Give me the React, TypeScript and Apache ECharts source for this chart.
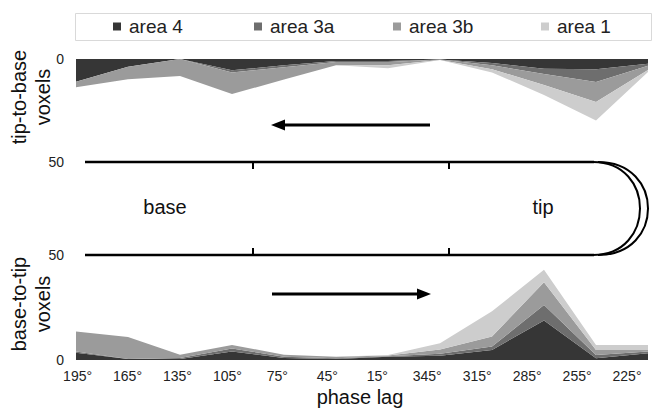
import React, { useEffect, useRef } from "react";
import * as echarts from "echarts";

const categories = ["195°", "165°", "135°", "105°", "75°", "45°", "15°", "345°", "315°", "285°", "255°", "225°"];
const seriesNames = ["area 4", "area 3a", "area 3b", "area 1"];
const seriesColors = ["#363636", "#6e6e6e", "#9b9b9b", "#cdcdcd"];

// tip-to-base (upper panel, hanging down from 0)
const topArea4 = [11, 3.8, 0, 5.5, 3, 1, 1, 0.3, 2, 4.7, 5, 2.3];
const topArea3a = [0, 0, 0, 1, 1, 0.5, 0.5, 0, 1, 2.6, 6.2, 1];
const topArea3b = [2.7, 6, 8.3, 10.5, 6, 1.5, 1.5, 0.2, 2, 5.3, 9.7, 2];
const topArea1 = [0, 0, 0, 0, 0, 0, 1.5, 0, 1.5, 4.9, 8.9, 1];

// base-to-tip (lower panel)
const botArea4 = [3.5, 0.5, 0.5, 4, 1, 0.5, 1.5, 2, 4.8, 18.8, 0.8, 3.2];
const botArea3a = [0.5, 0, 0.5, 1.5, 0.5, 0.3, 0.3, 1, 1.6, 7.4, 1.6, 0.8];
const botArea3b = [9.6, 10.4, 1.5, 1.7, 1, 0.8, 0.3, 2, 4.8, 10.8, 2.4, 0.8];
const botArea1 = [0, 0, 0, 0, 0, 0, 0.3, 3, 12, 6, 2.4, 2.4];

const yTicks = [0, 50];

const FONT = "'Liberation Sans', Arial, sans-serif";

export default function App() {
  const ref = useRef<HTMLDivElement>(null);
  useEffect(() => {
    if (!ref.current) return;
    const chart = echarts.init(ref.current, undefined, { renderer: "svg" });
    const topData = [topArea4, topArea3a, topArea3b, topArea1];
    const botData = [botArea4, botArea3a, botArea3b, botArea1];
    const mkSeries = (data: number[][], idx: number, stack: string) =>
      data.map((d, i) => ({
        name: seriesNames[i],
        type: "line",
        stack,
        xAxisIndex: idx,
        yAxisIndex: idx,
        data: d,
        symbol: "none",
        lineStyle: { width: 0 },
        areaStyle: { color: seriesColors[i], opacity: 1 },
        itemStyle: { color: seriesColors[i] },
      }));
    const legendLefts = [113, 254, 393, 541];
    const yAxisCommon = {
      type: "value",
      min: yTicks[0],
      max: yTicks[1],
      interval: yTicks[1] - yTicks[0],
      splitLine: { show: false },
      axisLine: { show: false },
      axisTick: { show: false },
      axisLabel: { fontSize: 14, color: "#222", margin: 12, fontFamily: FONT },
    };
    const lw = 2.5;
    const txt = (x: number, y: number, text: string, size: number, rot = 0) => ({
      type: "text",
      x,
      y,
      rotation: rot,
      style: {
        text,
        fontSize: size,
        lineHeight: size + 4,
        fontFamily: FONT,
        fill: "#111",
        align: "center",
        verticalAlign: "middle",
      },
    });
    chart.setOption({
      animation: false,
      backgroundColor: "#fff",
      textStyle: { fontFamily: FONT },
      legend: seriesNames.map((n, i) => ({
        data: [n],
        left: legendLefts[i],
        top: 17,
        icon: "rect",
        itemWidth: 8,
        itemHeight: 8,
        padding: 0,
        textStyle: { fontSize: 19, color: "#222", fontFamily: FONT, padding: [0, 0, 0, 3] },
      })),
      grid: [
        { left: 76, right: 4, top: 59, height: 103 },
        { left: 76, right: 4, top: 255, height: 105 },
        { left: 52.6, width: 608, top: 360, height: 1 },
      ],
      xAxis: [
        { type: "category", gridIndex: 0, data: categories, boundaryGap: false, show: false },
        { type: "category", gridIndex: 1, data: categories, boundaryGap: false, show: false },
        {
          type: "category",
          gridIndex: 2,
          data: categories,
          boundaryGap: true,
          axisLine: { show: false },
          axisTick: { show: false },
          axisLabel: { fontSize: 14, color: "#222", margin: 8, fontFamily: FONT, interval: 0 },
        },
      ],
      yAxis: [
        { ...yAxisCommon, gridIndex: 0, inverse: true },
        { ...yAxisCommon, gridIndex: 1 },
        { type: "value", gridIndex: 2, show: false },
      ],
      series: [...mkSeries(topData, 0, "top"), ...mkSeries(botData, 1, "bottom")],
      graphic: [
        {
          type: "rect",
          shape: { x: 75.5, y: 13.5, width: 576, height: 27 },
          style: { fill: "none", stroke: "#d9d9d9", lineWidth: 1 },
          z: -1,
        },
        txt(31, 97, "tip-to-base\nvoxels", 20, Math.PI / 2),
        txt(31, 304, "base-to-tip\nvoxels", 20, Math.PI / 2),
        txt(360, 397, "phase lag", 20),
        txt(165, 207, "base", 20),
        txt(543, 207, "tip", 20),
        // finger outline
        { type: "line", shape: { x1: 85, y1: 162, x2: 594, y2: 162 }, style: { stroke: "#000", lineWidth: lw } },
        { type: "line", shape: { x1: 85, y1: 255, x2: 594, y2: 255 }, style: { stroke: "#000", lineWidth: lw } },
        { type: "line", shape: { x1: 253, y1: 162, x2: 253, y2: 169 }, style: { stroke: "#000", lineWidth: 2 } },
        { type: "line", shape: { x1: 449, y1: 162, x2: 449, y2: 169 }, style: { stroke: "#000", lineWidth: 2 } },
        { type: "line", shape: { x1: 253, y1: 255, x2: 253, y2: 248 }, style: { stroke: "#000", lineWidth: 2 } },
        { type: "line", shape: { x1: 449, y1: 255, x2: 449, y2: 248 }, style: { stroke: "#000", lineWidth: 2 } },
        {
          type: "bezierCurve",
          shape: { x1: 593, y1: 162, cpx1: 593 + (4 / 3) * 47, cpy1: 162, cpx2: 593 + (4 / 3) * 47, cpy2: 255, x2: 593, y2: 255 },
          style: { stroke: "#000", lineWidth: 2, fill: "none" },
        },
        {
          type: "bezierCurve",
          shape: { x1: 598, y1: 162, cpx1: 598 + (4 / 3) * 50, cpy1: 162, cpx2: 598 + (4 / 3) * 50, cpy2: 255, x2: 598, y2: 255 },
          style: { stroke: "#000", lineWidth: 2, fill: "none" },
        },
        // arrows
        { type: "line", shape: { x1: 282, y1: 125, x2: 430, y2: 125 }, style: { stroke: "#000", lineWidth: 3 } },
        { type: "polygon", shape: { points: [[271, 125], [285, 119.5], [285, 130.5]] }, style: { fill: "#000" } },
        { type: "line", shape: { x1: 272, y1: 294, x2: 420, y2: 294 }, style: { stroke: "#000", lineWidth: 3 } },
        { type: "polygon", shape: { points: [[431, 294], [417, 288.5], [417, 299.5]] }, style: { fill: "#000" } },
      ],
    });
    return () => chart.dispose();
  }, []);
  return <div ref={ref} style={{ position: "fixed", left: 0, top: 0, width: 652, height: 413 }} />;
}
